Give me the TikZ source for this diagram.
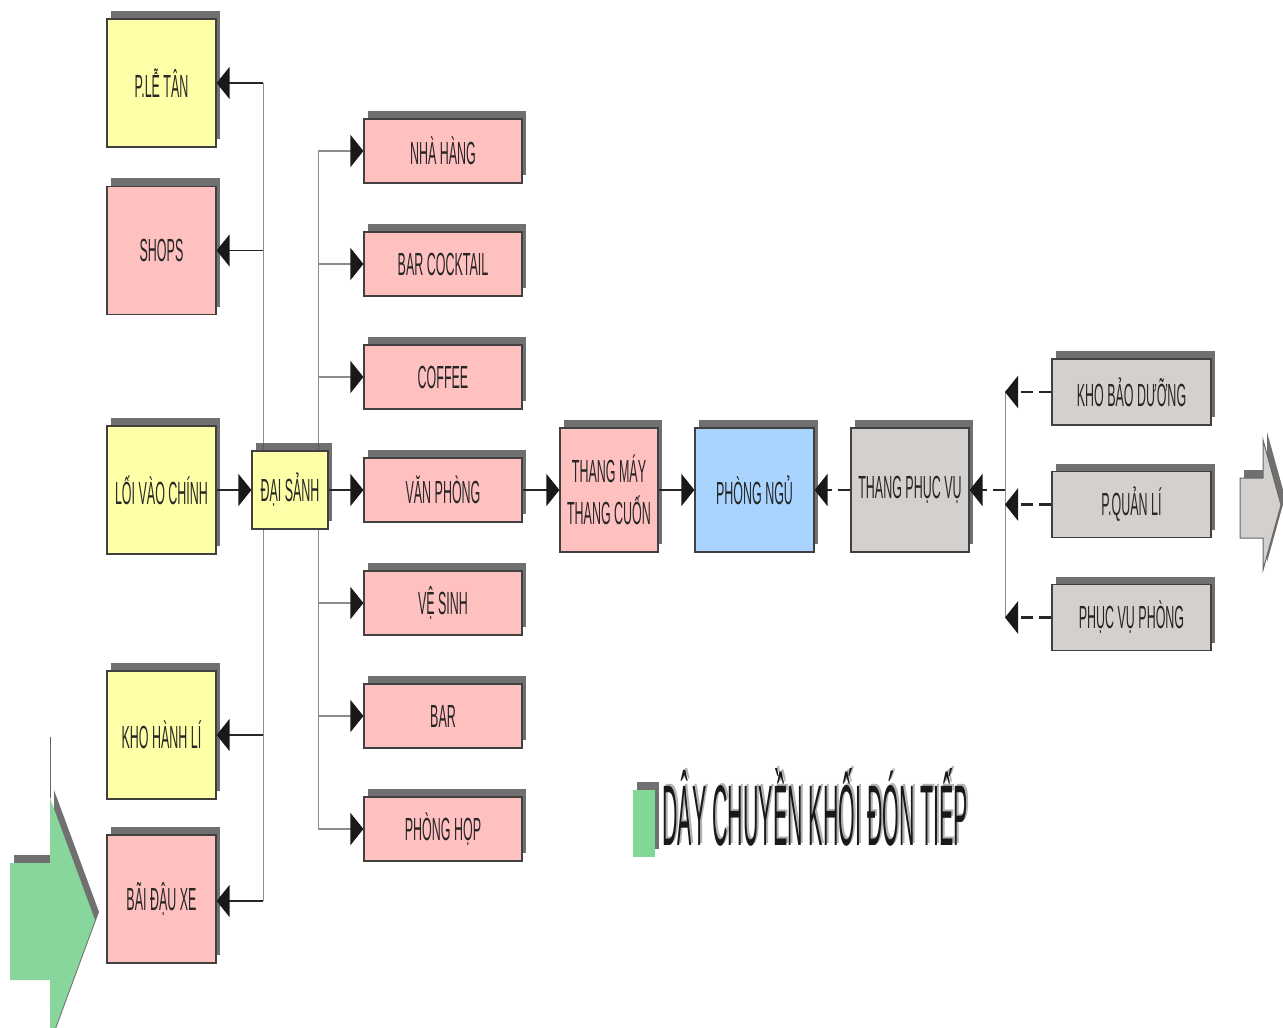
\documentclass[tikz,border=0pt]{standalone}
\usepackage{fontspec}
\setmainfont{Liberation Sans}[FakeStretch=0.39]
\newfontfamily\titlefont{Liberation Sans}[FakeStretch=0.249]
\usepackage{tikz}
\usetikzlibrary{arrows.meta,shadows}

\definecolor{lemon}{RGB}{255,255,168}
\definecolor{rose}{RGB}{255,192,192}
\definecolor{sky}{RGB}{168,212,255}
\definecolor{ash}{RGB}{212,208,206}
\definecolor{mint}{RGB}{136,214,156}

\tikzset{
  shade box/.style={drop shadow={shadow xshift=2pt,shadow yshift=4pt,fill=black!70,opacity=.8}},
  box/.style={draw=black!75, line width=0.6pt, inner sep=0pt, text=black!85,
    font=\fontsize{16}{21}\selectfont, align=center, shade box},
  leftbox/.style={box, minimum width=54.5pt, minimum height=64pt},
  midbox/.style={box, fill=rose, minimum width=79pt, minimum height=32pt},
  rightbox/.style={box, fill=ash, minimum width=79.5pt, minimum height=33pt},
  tallbox/.style={box, minimum height=62pt},
  tip/.style={-{Triangle[length=6.5pt,width=16pt,color=black!90]}},
  arr/.style={tip, draw=black!85, line width=0.8pt},
  garr/.style={tip, draw=black!45, line width=0.9pt},
  darr/.style={tip, draw=black!85, line width=1.4pt, dash pattern=on 6pt off 3pt},
  trunk/.style={draw=black!45, line width=0.5pt},
}

\begin{document}
\begin{tikzpicture}[x=0.5pt,y=-0.5pt]
\useasboundingbox (0,0) rectangle (1283,1027);
\clip (0,0) rectangle (1283,1027);

% trunks
\coordinate (lt1) at (263,83);
\coordinate (lt2) at (263,901);
\coordinate (mt1) at (318,151);
\coordinate (mt2) at (318,829);
\coordinate (rt1) at (1005,391);
\coordinate (rt2) at (1005,618);
\draw[trunk] (lt1) -- (lt2);
\draw[trunk] (mt1) -- (mt2);
\draw[trunk] (rt1) -- (rt2);

% left column
\node[leftbox, fill=lemon] (letan)  at (161.5,83)    {P.LỄ TÂN};
\node[leftbox, fill=rose]  (shops)  at (161.5,250.5) {SHOPS};
\node[leftbox, fill=lemon] (loivao) at (161.5,490)   {LỐI  VÀO CHÍNH};
\node[leftbox, fill=lemon] (khohl)  at (161.5,735)   {KHO HÀNH LÍ};
\node[leftbox, fill=rose]  (baidau) at (161.5,899)   {BÃI ĐẬU XE};

% lobby
\node[box, fill=lemon, minimum width=38pt, minimum height=39pt] (daisanh) at (290,490) {ĐẠI SẢNH};

% middle column
\node[midbox] (nhahang)  at (443,151) {NHÀ HÀNG};
\node[midbox] (barcock)  at (443,264) {BAR COCKTAIL};
\node[midbox] (coffee)   at (443,377) {COFFEE};
\node[midbox] (vanphong) at (443,490) {VĂN PHÒNG};
\node[midbox] (vesinh)   at (443,603) {VỆ SINH};
\node[midbox] (bar)      at (443,716) {BAR};
\node[midbox] (phonghop) at (443,829) {PHÒNG HỌP};

% rooms
\node[tallbox, fill=rose, minimum width=49pt]   (thangmay) at (609,490)   {THANG MÁY\\THANG CUỐN};
\node[tallbox, fill=sky,  minimum width=59.5pt] (phongngu) at (754.5,490) {PHÒNG NGỦ};
\node[tallbox, fill=ash,  minimum width=59pt]   (thangpv)  at (910,490)   {THANG PHỤC VỤ};

% service column
\node[rightbox] (khobd)   at (1131.5,392)   {KHO BẢO DƯỠNG};
\node[rightbox] (quanli)  at (1131.5,504.5) {P.QUẢN LÍ};
\node[rightbox] (phucvu)  at (1131.5,617.5) {PHỤC VỤ PHÒNG};

% left branches
\draw[arr] (lt1 |- letan) -- (letan);
\draw[arr] (lt1 |- shops) -- (shops);
\draw[arr] (lt1 |- khohl) -- (khohl);
\draw[arr] (lt2) -- (lt2 -| baidau.east);

% middle branches
\draw[garr] (mt1) -- (nhahang);
\draw[garr] (mt1 |- barcock) -- (barcock);
\draw[garr] (mt1 |- coffee) -- (coffee);
\draw[garr] (mt1 |- vesinh) -- (vesinh);
\draw[garr] (mt1 |- bar) -- (bar);
\draw[garr] (mt2) -- (phonghop);

% main flow
\draw[arr] (loivao) -- (daisanh);
\draw[arr] (daisanh) -- (vanphong);
\draw[arr] (vanphong) -- (thangmay);
\draw[arr] (thangmay) -- (phongngu);
\draw[darr] (thangpv) -- (phongngu);
\draw[darr] (rt1 |- thangpv) -- (thangpv);
\draw[darr] (khobd) -- (rt1 |- khobd);
\draw[darr] (quanli) -- (rt1 |- quanli);
\draw[darr] (phucvu) -- (rt1 |- phucvu);

% entry arrow
\draw[black!60, line width=0.5pt] (50,737) -- (50,798);
\fill[mint, shade box] (10,863) -- (50,863) -- (50,798) -- (95,920) -- (50,1042) -- (50,980) -- (10,980) -- cycle;
% exit arrow
\filldraw[fill=ash, draw=black!60, line width=0.5pt, shade box] (1240,478) -- (1263,478) -- (1263,440) -- (1281,505) -- (1263,570) -- (1263,538) -- (1240,538) -- cycle;

% title
\fill[mint!95!green, shade box] (633,790) rectangle (655,857);
\node[anchor=base west, inner sep=0pt, text=black!30] (titleshadow) at (664,843)
  {\titlefont\fontsize{43}{50}\selectfont DÂY CHUYỀN KHỐI ĐÓN TIẾP};
\node[anchor=base west, inner sep=0pt, text=black!90] (title) at (662,845)
  {\titlefont\fontsize{43}{50}\selectfont DÂY CHUYỀN KHỐI ĐÓN TIẾP};
\end{tikzpicture}
\end{document}
